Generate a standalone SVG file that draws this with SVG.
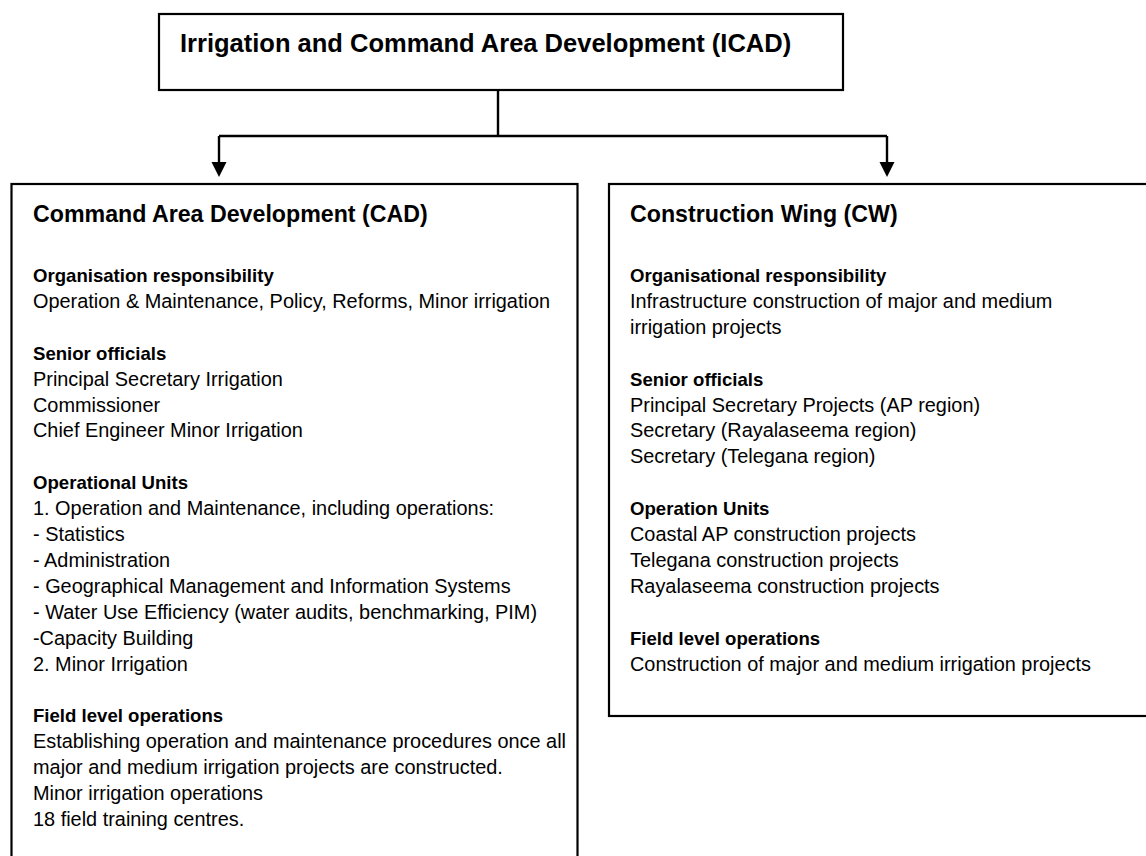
<svg xmlns="http://www.w3.org/2000/svg" width="1146" height="856" viewBox="0 0 1146 856">
  <style>
    .box { fill: #ffffff; stroke: #000000; stroke-width: 2.2; }
    .wire { fill: none; stroke: #000000; stroke-width: 2.4; }
    .tip { fill: #000000; }
    text { font-family: "Liberation Sans", Arial, sans-serif; fill: #000000; }
    .top-title { font-size: 25.5px; font-weight: bold; }
    .title { font-size: 23.2px; font-weight: bold; }
    .head { font-size: 18.6px; font-weight: bold; }
    .body { font-size: 19.9px; }
  </style>

  <rect width="1146" height="856" fill="#ffffff"/>

  <!-- connectors: drop from the top box, branch bar, two arrowed legs -->
  <g id="connectors">
    <line class="wire" x1="498" y1="90" x2="498" y2="136"/>
    <line class="wire" x1="219" y1="136" x2="887" y2="136"/>
    <line class="wire" x1="219" y1="136" x2="219" y2="163"/>
    <line class="wire" x1="887" y1="136" x2="887" y2="163"/>
    <polygon class="tip" points="211.5,162 226.5,162 219,177"/>
    <polygon class="tip" points="879.5,162 894.5,162 887,177"/>
  </g>

  <!-- top node -->
  <g id="icad">
    <rect class="box" x="159" y="14" width="684" height="76"/>
    <text class="top-title" x="180" y="52">Irrigation and Command Area Development (ICAD)</text>
  </g>

  <!-- left node (runs past the bottom edge) -->
  <g id="cad">
    <rect class="box" x="11.5" y="184" width="566" height="700"/>
    <text class="title" x="33" y="222">Command Area Development (CAD)</text>
    <text class="head" x="33" y="282">Organisation responsibility</text>
    <text class="body" x="33" y="307.9">Operation &amp; Maintenance, Policy, Reforms, Minor irrigation</text>
    <text class="head" x="33" y="359.7">Senior officials</text>
    <text class="body" x="33" y="385.6">Principal Secretary Irrigation</text>
    <text class="body" x="33" y="411.5">Commissioner</text>
    <text class="body" x="33" y="437.4">Chief Engineer Minor Irrigation</text>
    <text class="head" x="33" y="489.2">Operational Units</text>
    <text class="body" x="33" y="515.1">1. Operation and Maintenance, including operations:</text>
    <text class="body" x="33" y="541">- Statistics</text>
    <text class="body" x="33" y="566.9">- Administration</text>
    <text class="body" x="33" y="592.8">- Geographical Management and Information Systems</text>
    <text class="body" x="33" y="618.7">- Water Use Efficiency (water audits, benchmarking, PIM)</text>
    <text class="body" x="33" y="644.6">-Capacity Building</text>
    <text class="body" x="33" y="670.5">2. Minor Irrigation</text>
    <text class="head" x="33" y="722.3">Field level operations</text>
    <text class="body" x="33" y="748.2">Establishing operation and maintenance procedures once all</text>
    <text class="body" x="33" y="774.1">major and medium irrigation projects are constructed.</text>
    <text class="body" x="33" y="800">Minor irrigation operations</text>
    <text class="body" x="33" y="825.9">18 field training centres.</text>
  </g>

  <!-- right node (runs past the right edge) -->
  <g id="cw">
    <rect class="box" x="609" y="184" width="560" height="532"/>
    <text class="title" x="630" y="222">Construction Wing (CW)</text>
    <text class="head" x="630" y="282">Organisational responsibility</text>
    <text class="body" x="630" y="307.9">Infrastructure construction of major and medium</text>
    <text class="body" x="630" y="333.8">irrigation projects</text>
    <text class="head" x="630" y="385.6">Senior officials</text>
    <text class="body" x="630" y="411.5">Principal Secretary Projects (AP region)</text>
    <text class="body" x="630" y="437.4">Secretary (Rayalaseema region)</text>
    <text class="body" x="630" y="463.3">Secretary (Telegana region)</text>
    <text class="head" x="630" y="515.1">Operation Units</text>
    <text class="body" x="630" y="541">Coastal AP construction projects</text>
    <text class="body" x="630" y="566.9">Telegana construction projects</text>
    <text class="body" x="630" y="592.8">Rayalaseema construction projects</text>
    <text class="head" x="630" y="644.6">Field level operations</text>
    <text class="body" x="630" y="670.5">Construction of major and medium irrigation projects</text>
  </g>
</svg>
